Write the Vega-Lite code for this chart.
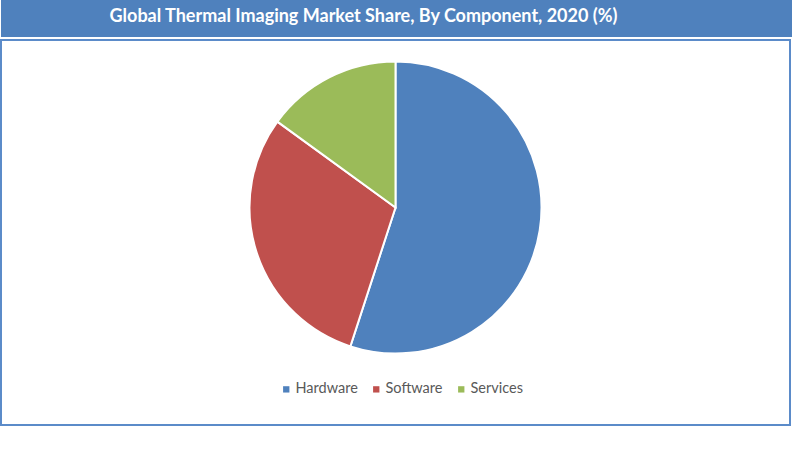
{
  "$schema": "https://vega.github.io/schema/vega-lite/v6.json",
  "background": "white",
  "padding": 0,
  "spacing": 2,
  "config": {"font": "Lato", "view": {"stroke": null}},
  "vconcat": [
    {
      "width": 791,
      "height": 37,
      "view": {"fill": "#4f81bd", "stroke": null},
      "data": {"values": [{"label": "Global Thermal Imaging Market Share, By Component, 2020 (%)"}]},
      "mark": {"type": "text", "color": "white", "fontSize": 18, "fontWeight": "bold", "xOffset": -33, "yOffset": -2},
      "encoding": {"text": {"field": "label"}}
    },
    {
      "width": 789,
      "height": 385,
      "view": {"fill": "white", "stroke": "#5b8bc9", "strokeWidth": 2},
      "data": {"values": [
        {"component": "Hardware", "share": 55},
        {"component": "Software", "share": 30},
        {"component": "Services", "share": 15}
      ]},
      "mark": {"type": "arc", "radius": 146, "yOffset": -25, "stroke": "white", "strokeWidth": 2},
      "encoding": {
        "theta": {"field": "share", "type": "quantitative", "stack": true},
        "color": {
          "field": "component",
          "type": "nominal",
          "sort": ["Hardware", "Software", "Services"],
          "scale": {"domain": ["Hardware", "Software", "Services"], "range": ["#4f81bd", "#c0504d", "#9bbb59"]},
          "legend": {
            "orient": "none",
            "direction": "horizontal",
            "legendX": 278,
            "legendY": 382,
            "title": null,
            "symbolType": "square",
            "symbolSize": 40,
            "symbolStrokeWidth": 0,
            "labelFontSize": 14.5,
            "labelColor": "#595959",
            "columnPadding": 11,
            "labelOffset": 2
          }
        },
        "order": {"field": "share", "type": "quantitative", "sort": "descending"},
        "tooltip": [
          {"field": "component", "type": "nominal", "title": "Component"},
          {"field": "share", "type": "quantitative", "title": "Share (%)"}
        ]
      }
    }
  ]
}
